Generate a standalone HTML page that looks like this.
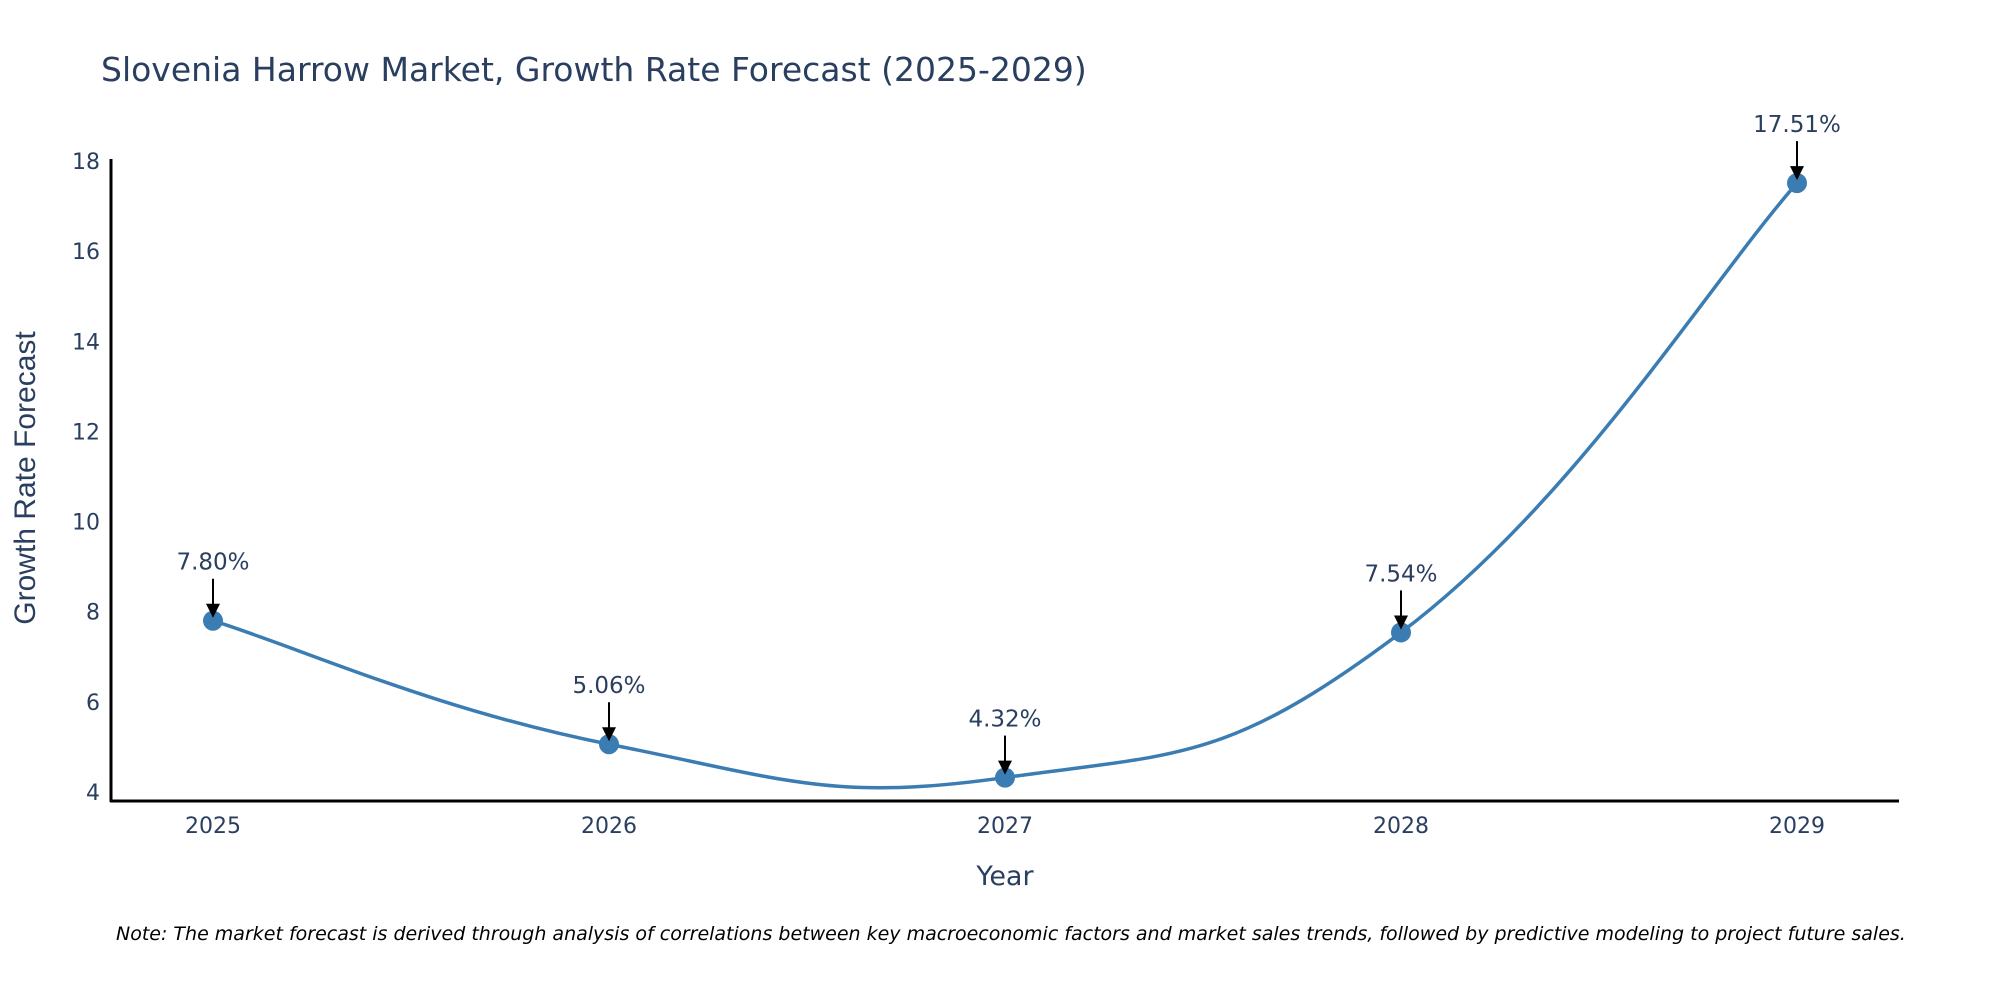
<!DOCTYPE html>
<html><head><meta charset="utf-8"><style>
body{margin:0;background:#fff;}
svg{display:block;font-family:"DejaVu Sans","Liberation Sans",sans-serif;}
</style></head><body>
<svg id="chart" width="2000" height="1000" viewBox="0 0 2000 1000">
<text x="101" y="81" font-size="33" fill="#2a3f5f">Slovenia Harrow Market, Growth Rate Forecast (2025-2029)</text>
<g id="yticks"></g>
<g id="xticks"></g>
<line x1="111" y1="159" x2="111" y2="802" stroke="#000" stroke-width="3"/>
<line x1="110" y1="801" x2="1899" y2="801" stroke="#000" stroke-width="3"/>
<text transform="translate(35,478) rotate(-90)" text-anchor="middle" font-size="30" fill="#2a3f5f" style="font-family:'Liberation Sans',sans-serif">Growth Rate Forecast</text>
<text x="1005" y="885" text-anchor="middle" font-size="27" fill="#2a3f5f">Year</text>
<g id="series"></g>
<text x="116" y="940" font-size="19" font-style="italic" fill="#000">Note: The market forecast is derived through analysis of correlations between key macroeconomic factors and market sales trends, followed by predictive modeling to project future sales.</text>
</svg>
<script>
const categories=["2025","2026","2027","2028","2029"];
const values=[7.80,5.06,4.32,7.54,17.51];
const yTicks=[4,6,8,10,12,14,16,18];
const NS="http://www.w3.org/2000/svg";
function xScale(i){return 213+i*396;}
function yScale(v){return 792-(v-4)*(792-161)/14;}
function mk(tag,attrs,parent){const e=document.createElementNS(NS,tag);for(const k in attrs)e.setAttribute(k,attrs[k]);parent.appendChild(e);return e;}
const yt=document.getElementById('yticks');
yTicks.forEach(t=>{const y=yScale(t);
 const tx=mk('text',{x:100,y:y+8,'text-anchor':'end','font-size':22,fill:'#2a3f5f'},yt);
 tx.textContent=t;
 
 
});
const xt=document.getElementById('xticks');
categories.forEach((c,i)=>{
 const tx=mk('text',{x:xScale(i),y:833,'text-anchor':'middle','font-size':22,fill:'#2a3f5f'},xt);
 tx.textContent=c;
 
 
});
const g=document.getElementById('series');
const pts=values.map((v,i)=>[xScale(i),yScale(v)]);
let d='M'+pts[0][0]+','+pts[0][1];
for(let i=0;i<pts.length-1;i++){
 const p0=pts[Math.max(0,i-1)],p1=pts[i],p2=pts[i+1],p3=pts[Math.min(pts.length-1,i+2)];
 const k=0.22;
 const c1=[p1[0]+(p2[0]-p0[0])*k,p1[1]+(p2[1]-p0[1])*k];
 const c2=[p2[0]-(p3[0]-p1[0])*k,p2[1]-(p3[1]-p1[1])*k];
 d+=' C'+c1.join(',')+' '+c2.join(',')+' '+p2.join(',');
}
const path=mk('path',{d:d,fill:'none',stroke:'#3b7db3','stroke-width':3.5},g);


pts.forEach((p,i)=>{
 const c=mk('circle',{cx:p[0],cy:p[1],r:10,fill:'#3b7db3'},g);
 
 
 const a=mk('line',{x1:p[0],y1:p[1]-42,x2:p[0],y2:p[1]-14,stroke:'#000','stroke-width':2},g);
 
 
 const h=mk('polygon',{points:(p[0]-7)+','+(p[1]-17)+' '+(p[0]+7)+','+(p[1]-17)+' '+p[0]+','+(p[1]-3),fill:'#000'},g);
 
 
 const tx=mk('text',{x:p[0],y:p[1]-51,'text-anchor':'middle','font-size':23,fill:'#2a3f5f'},g);
 tx.textContent=values[i].toFixed(2)+'%';
 
 
});
</script>
</body></html>
